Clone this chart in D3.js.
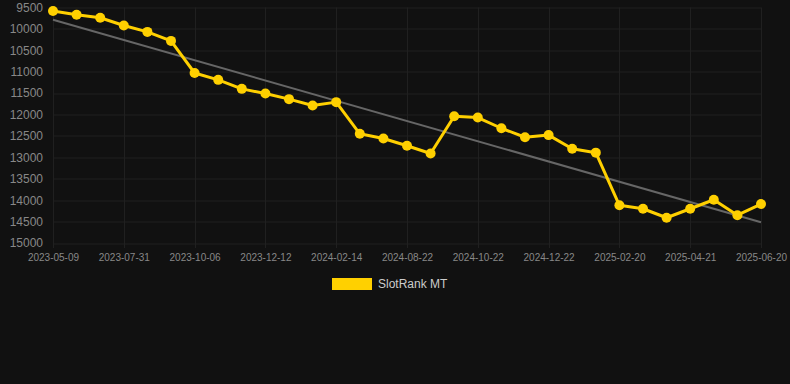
<!DOCTYPE html>
<html>
<head>
<meta charset="utf-8">
<script src="https://cdn.jsdelivr.net/npm/d3@7"></script>
<style>
  html, body { margin: 0; padding: 0; background: #111111; }
  #chart { width: 790px; height: 384px; }
  text { font-family: "Liberation Sans", Arial, sans-serif; }
</style>
</head>
<body>
<div id="chart"></div>
<script>
// rank values, one per observation (lower rank number = better)
var ranks = [
  9580, 9670, 9740, 9920, 10070, 10280,
  11030, 11190, 11400, 11510, 11640, 11790,
  11710, 12450, 12560, 12730, 12910, 12040,
  12070, 12320, 12530, 12480, 12800, 12890,
  14120, 14200, 14410, 14200, 13990, 14350,
  14090
];
// labels shown under every third observation
var tickLabels = [
  "2023-05-09", "2023-07-31", "2023-10-06", "2023-12-12",
  "2024-02-14", "2024-08-22", "2024-10-22", "2024-12-22",
  "2025-02-20", "2025-04-21", "2025-06-20"
];
var yTicks = [9500, 10000, 10500, 11000, 11500, 12000, 12500, 13000, 13500, 14000, 14500, 15000];
var seriesName = "SlotRank MT";

var drawChart = function() {
  var margin = { top: 7.5, right: 29, bottom: 141, left: 53 },
      width  = 790 - margin.left - margin.right,
      height = 384 - margin.top - margin.bottom;

  var data = ranks.map(function(v, i) { return { i: i, rank: v }; });
  var tickIdx = tickLabels.map(function(d, k) { return k * 3; });

  var x = d3.scalePoint()
    .domain(data.map(function(d) { return d.i; }))
    .range([0, width]);

  var y = d3.scaleLinear()
    .domain([9500, 15000])
    .range([0, height]);

  var svg = d3.select("#chart").append("svg")
    .attr("width", 790)
    .attr("height", 384)
    .append("g")
      .attr("transform", "translate(" + margin.left + "," + margin.top + ")");

  // grid
  svg.append("g")
    .selectAll("line")
    .data(yTicks)
    .enter().append("line")
      .attr("x1", 0).attr("x2", width)
      .attr("y1", function(d) { return Math.round(y(d)) + 0.5; })
      .attr("y2", function(d) { return Math.round(y(d)) + 0.5; })
      .attr("stroke", "#202020");

  svg.append("g")
    .selectAll("line")
    .data(tickIdx)
    .enter().append("line")
      .attr("x1", function(d) { return Math.round(x(d)) + 0.5; })
      .attr("x2", function(d) { return Math.round(x(d)) + 0.5; })
      .attr("y1", 0).attr("y2", height + 5)
      .attr("stroke", "#202020");

  // y axis
  var yAxis = svg.append("g")
    .attr("class", "y axis")
    .call(d3.axisLeft(y).tickValues(yTicks).tickFormat(d3.format("d")).tickSize(0).tickPadding(10));
  yAxis.select(".domain").remove();
  yAxis.selectAll("text")
    .attr("fill", "#888888")
    .style("font-size", "12px");

  // x axis
  var xAxis = svg.append("g")
    .attr("class", "x axis")
    .attr("transform", "translate(0," + height + ")")
    .call(d3.axisBottom(x)
      .tickValues(tickIdx)
      .tickFormat(function(d) { return tickLabels[d / 3]; })
      .tickSize(0)
      .tickPadding(11));
  xAxis.select(".domain").remove();
  xAxis.selectAll("text")
    .attr("fill", "#888888")
    .style("font-size", "10px");

  // trend line (least squares over the ranks)
  var n = data.length,
      mx = d3.mean(data, function(d) { return d.i; }),
      my = d3.mean(data, function(d) { return d.rank; });
  var slope = d3.sum(data, function(d) { return (d.i - mx) * (d.rank - my); }) /
              d3.sum(data, function(d) { return (d.i - mx) * (d.i - mx); });
  var trend = [0, n - 1].map(function(i) { return { i: i, rank: my + slope * (i - mx) }; });

  var line = d3.line()
    .x(function(d) { return x(d.i); })
    .y(function(d) { return y(d.rank); });

  svg.append("path")
    .attr("d", line(trend))
    .attr("fill", "none")
    .attr("stroke", "#666666")
    .attr("stroke-width", 2);

  svg.append("path")
    .attr("d", line(data))
    .attr("fill", "none")
    .attr("stroke", "#FFD000")
    .attr("stroke-width", 3)
    .attr("stroke-linejoin", "round");

  svg.selectAll(".dot")
    .data(data)
    .enter().append("circle")
      .attr("class", "dot")
      .attr("cx", function(d) { return x(d.i); })
      .attr("cy", function(d) { return y(d.rank); })
      .attr("r", 5)
      .attr("fill", "#FFD000");

  // legend
  var legend = d3.select("#chart svg").append("g")
    .attr("transform", "translate(332,278)");
  legend.append("rect")
    .attr("width", 40).attr("height", 12)
    .attr("fill", "#FFD000");
  legend.append("text")
    .attr("x", 46).attr("y", 6)
    .attr("dy", "0.35em")
    .attr("fill", "#cccccc")
    .style("font-size", "12px")
    .text(seriesName);
};

drawChart();
</script>
</body>
</html>
